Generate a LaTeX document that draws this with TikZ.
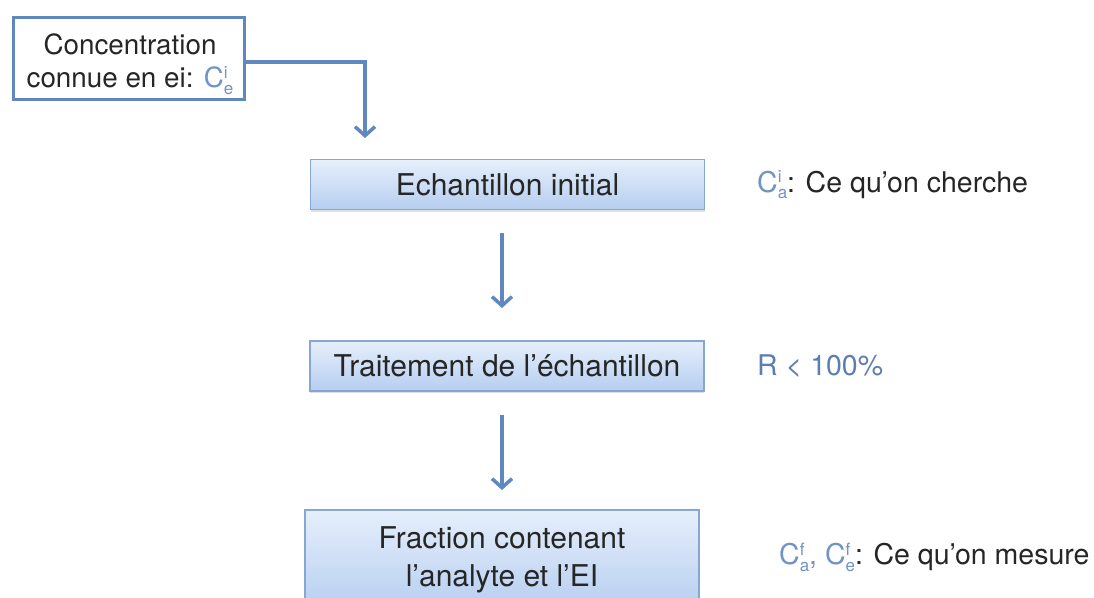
\documentclass[tikz,border=0pt]{standalone}
\usepackage{fontspec}
\setmainfont{TeX Gyre Heros}
\usetikzlibrary{arrows.meta,shadows}

% C with stacked indices, e.g. \Cidx{i}{e}
\newcommand{\Cidx}[2]{C\rlap{\raisebox{0.62ex}{\fontsize{17}{17}\selectfont #1}}\raisebox{-0.45ex}{\fontsize{17}{17}\selectfont #2}}

\begin{document}
\begin{tikzpicture}[x=1pt, y=-1pt,
        every node/.style={font=\fontsize{30}{37}\selectfont, text=textdark},
        flowbox/.style={draw=boxedge, line width=1.2pt, top color=boxtop, bottom color=boxbot,
            drop shadow={shadow xshift=0pt, shadow yshift=-2pt, opacity=0.25},
            minimum width=394, minimum height=50, align=center, inner sep=0pt},
        flowarrow/.style={draw=arrowblue, line width=3.5pt, -{Straight Barb[length=9pt,width=20pt]}},
        sidelabel/.style={anchor=west, inner sep=0pt, font=\fontsize{28.5}{34}\selectfont}]
        % Define the colors
        \definecolor{textdark}{HTML}{262626}
        \definecolor{arrowblue}{HTML}{5F88C0}
        \definecolor{boxedge}{HTML}{86A6D4}
        \definecolor{boxtop}{HTML}{E6EFFB}
        \definecolor{boxbot}{HTML}{B6CEF0}
        \definecolor{lblue}{HTML}{7193C6}
        \definecolor{rblue}{HTML}{5E7EB2}

        \clip (0,0) rectangle (1094,597);
        \fill[white] (0,0) rectangle (1094,597);

        % Draw the top box with the known concentration
        \node[draw=arrowblue, line width=3pt, fill=white, minimum width=231, minimum height=82,
            inner sep=0pt] (ConcInit) at (129,58) {};
        \node[align=center, inner sep=0pt, font=\fontsize{27.8}{33}\selectfont] (ConcText) at (130,64)
            {Concentration\\connue en ei: {\color{lblue}\Cidx{i}{e}}};

        % Draw the boxes of the center column
        \node[flowbox] (EchInit) at (507.5,184.5) {Echantillon initial};
        \node[flowbox] (Traitement) at (507,366) {Traitement de l’échantillon};
        \node[flowbox, minimum height=100, font=\fontsize{30}{38}\selectfont] (Fraction) at (502,560)
            {Fraction contenant\\l’analyte et l’EI};

        % Draw the labels on the right
        \node[sidelabel] (LabelCherche) at (757,185) {{\color{lblue}\Cidx{i}{a}}: Ce qu’on cherche};
        \node[sidelabel, text=rblue] (LabelR) at (757,366) {R < 100\%};
        \node[sidelabel] (LabelMesure) at (779,557) {{\color{lblue}\Cidx{f}{a}, \Cidx{f}{e}}: Ce qu’on mesure};

        % Free ends of the arrows
        \coordinate (ArrA) at (365,138);
        \coordinate (ArrBStart) at (502,233);
        \coordinate (ArrBEnd) at (502,308);
        \coordinate (ArrCStart) at (502,415);
        \coordinate (ArrCEnd) at (502,490);

        % Draw the arrows
        \draw[flowarrow] ([yshift=-4pt]ConcInit.east) -| (ArrA);
        \draw[flowarrow] (ArrBStart) -- (ArrBEnd);
        \draw[flowarrow] (ArrCStart) -- (ArrCEnd);
\end{tikzpicture}
\end{document}
